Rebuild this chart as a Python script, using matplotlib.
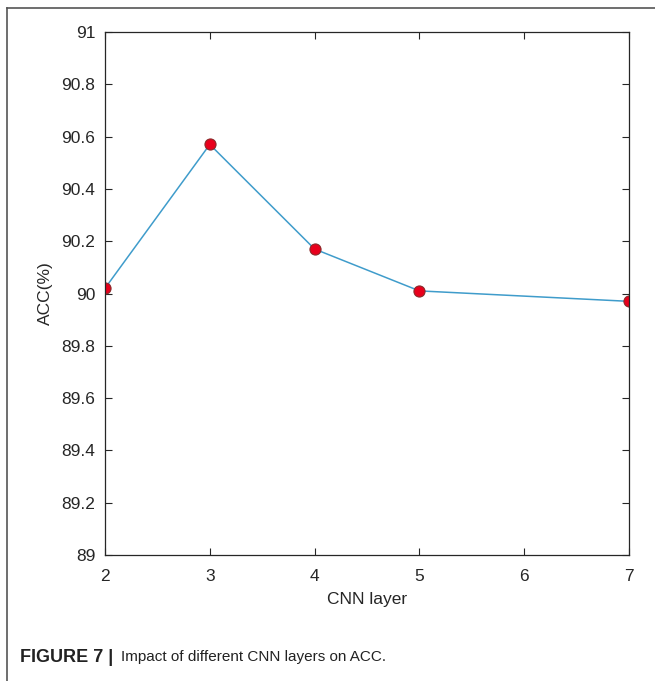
import matplotlib.pyplot as plt
from matplotlib.lines import Line2D

layers = [2, 3, 4, 5, 7]
acc = [90.02, 90.57, 90.17, 90.01, 89.97]
x_ticks = [2, 3, 4, 5, 6, 7]
y_ticks = [89, 89.2, 89.4, 89.6, 89.8, 90, 90.2, 90.4, 90.6, 90.8, 91]
y_labels = ["89", "89.2", "89.4", "89.6", "89.8", "90", "90.2", "90.4", "90.6", "90.8", "91"]

W, H = 655, 681
fig = plt.figure(figsize=(W / 100, H / 100), dpi=100)
plt.rcParams['font.family'] = ['Liberation Sans', 'DejaVu Sans']

ax = fig.add_axes([105 / W, 1 - 555 / H, 524 / W, 523 / H])
ax.plot(layers, acc, color='#3f9ccb', linewidth=1.1, marker='o',
        markersize=8, markerfacecolor='#e8001c', markeredgecolor='#8a2a2a',
        markeredgewidth=0.8)

ax.set_xlim(2, 7)
ax.set_ylim(89, 91)
ax.set_xticks(x_ticks)
ax.set_yticks(y_ticks)
ax.set_yticklabels(y_labels)
ax.tick_params(direction='in', length=5, width=0.8, colors='#262626',
               labelsize=12.5, top=True, right=True)
ax.tick_params(axis='x', pad=10)
ax.tick_params(axis='y', pad=7)
for s in ax.spines.values():
    s.set_color('#262626')
    s.set_linewidth(0.9)
ax.set_xlabel("CNN layer", fontsize=12.5, color='#262626', labelpad=6)
ax.set_ylabel("ACC(%)", fontsize=12.5, color='#262626', labelpad=6)

# outer frame (top and left only)
fig.add_artist(Line2D([7 / W, 1], [1 - 8 / H, 1 - 8 / H], color='#555555', linewidth=1.2))
fig.add_artist(Line2D([7 / W, 7 / W], [0, 1 - 8 / H], color='#555555', linewidth=1.2))

fig.text(20 / W, 1 - 657 / H, "FIGURE 7 |", fontsize=13, fontweight='bold',
         va='center', color='#222222')
fig.text(121 / W, 1 - 657 / H, "Impact of different CNN layers on ACC.", fontsize=11,
         va='center', color='#222222')

plt.savefig("out.png", dpi=100)
